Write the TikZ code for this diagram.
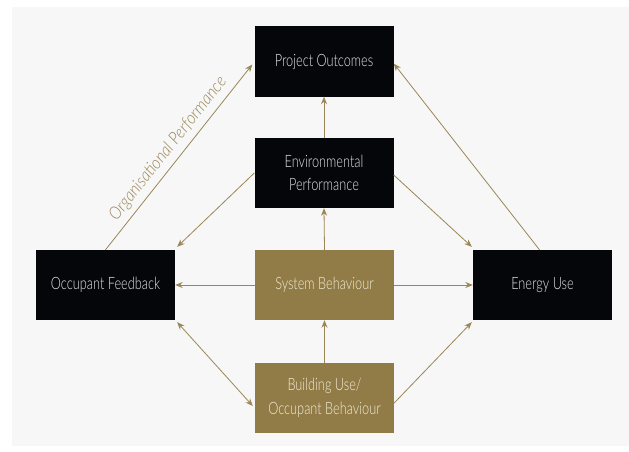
\documentclass[tikz,border=0pt]{standalone}
\usepackage{fontspec}
\setmainfont{Lato Light}[FakeStretch=0.75, ItalicFont={Lato Light Italic}]
\newfontfamily\labelfont{Lato Light}[FakeStretch=0.9, ItalicFont={Lato Light Italic}]
\usetikzlibrary{arrows.meta}
\definecolor{gold}{HTML}{917C47}
\definecolor{goldline}{HTML}{9A8657}
\definecolor{boxblack}{HTML}{05060A}
\definecolor{panel}{HTML}{F7F7F7}
\definecolor{lighttext}{HTML}{E6E6E6}
\definecolor{creamtext}{HTML}{F2EBD6}
\begin{document}
\begin{tikzpicture}[x=1pt,y=-1pt,
  darkbox/.style={rectangle, fill=boxblack, minimum width=139pt, minimum height=70pt,
    inner sep=0pt, text=lighttext, font=\fontsize{17}{23.5}\selectfont, align=center},
  goldbox/.style={darkbox, fill=gold, text=creamtext},
  link/.style={draw=goldline, line width=0.8pt, -{Stealth[length=7.5pt,width=6pt]}},
  twoway/.style={link, {Stealth[length=7.5pt,width=6pt]}-{Stealth[length=7.5pt,width=6pt]}}]
  \useasboundingbox (0,0) rectangle (629,452);
  \fill[white] (0,0) rectangle (629,452);
  \fill[panel] (12,7) rectangle (629,446);

  % boxes
  \node[darkbox] (po) at (324,61.5) {Project Outcomes};
  \node[darkbox] (env) at (324,173) {Environmental\\Performance};
  \node[darkbox] (of) at (105.5,285) {Occupant Feedback};
  \node[goldbox] (sb) at (324.5,285) {System Behaviour};
  \node[darkbox] (eu) at (542.5,285) {Energy Use};
  \node[goldbox] (bu) at (324.5,398) {Building Use/\\Occupant Behaviour};

  % vertical chain
  \draw[link] (env.north) -- (po.south);
  \draw[link] (sb.north) -- (env.south);
  \draw[link] (bu.north) -- (sb.south);

  % horizontal from system behaviour
  \draw[link] (sb.west) -- (of.east);
  \draw[link] (sb.east) -- (eu.west);

  % diagonals
  \draw[link] (env.west) -- ([shift={(2pt,3pt)}]of.north east);
  \draw[link] ([yshift=-2pt]env.east) -- ([shift={(-1pt,3pt)}]eu.north west);
  \draw[link] ([xshift=-3pt]eu.north) -- ([yshift=-2pt]po.east);
  \draw[link] (of.north) -- node[midway, above=2pt, sloped, text=goldline,
      font=\labelfont\fontsize{17.5}{19}\selectfont\itshape] {Organisational Performance}
    ([xshift=-2pt,yshift=-3pt]po.west);
  \draw[twoway] ([shift={(2pt,-2pt)}]of.south east) -- ([shift={(-2pt,-8pt)}]bu.west);
  \draw[link] ([yshift=-5pt]bu.east) -- ([shift={(-1pt,-2pt)}]eu.south west);
\end{tikzpicture}
\end{document}
